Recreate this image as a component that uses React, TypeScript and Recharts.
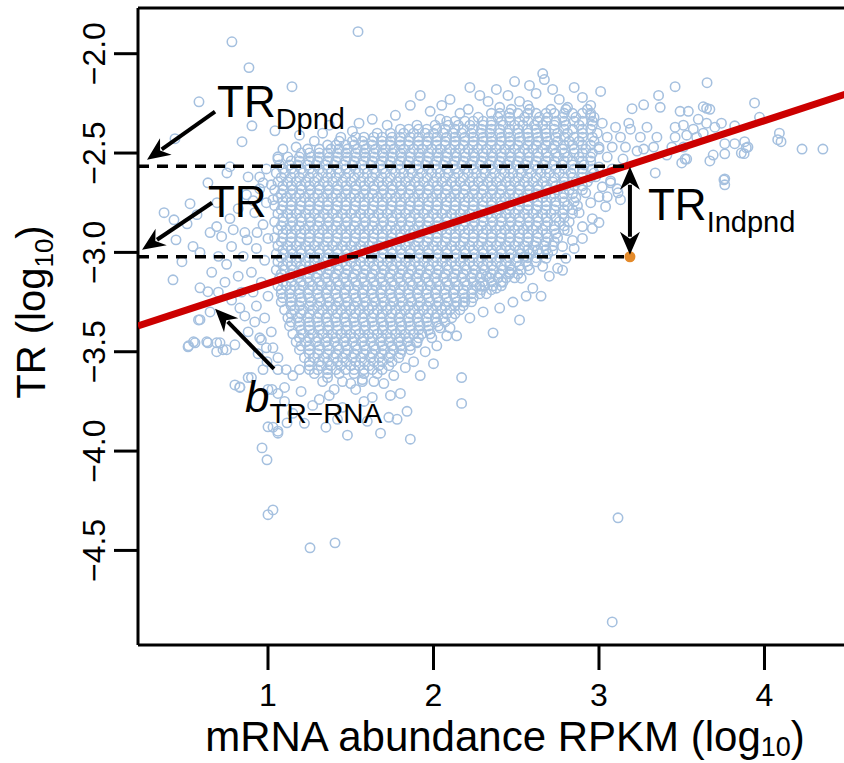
import { ReferenceDot, ReferenceLine, Scatter, ScatterChart, XAxis, YAxis } from 'recharts';

const FONT = "'Liberation Sans', Arial, Helvetica, sans-serif";
const POINT_COLOR = '#a5c0df';

// axis ranges (log10 units)
const xDomain: [number, number] = [0.2145, 4.553];
const yDomain: [number, number] = [-4.976, -1.77];
const xTicks = [1, 2, 3, 4];
const yTicks = [-4.5, -4, -3.5, -3, -2.5, -2];

// dense core of the cloud, read row by row: [TR, mRNA values...]
const coreRows: [number, number[]][] = [
  [-2.28, [2.47, 2.58, 2.71, 2.8, 2.93]],
  [-2.32, [2.27, 2.39, 2.46, 2.55, 2.64, 2.69, 2.78, 2.86, 2.97]],
  [-2.36, [1.9, 2.01, 2.09, 2.15, 2.22, 2.3, 2.35, 2.42, 2.49, 2.54, 2.61, 2.66, 2.73, 2.8, 2.88, 2.96]],
  [-2.4, [1.66, 1.74, 1.82, 1.88, 1.95, 2.0, 2.06, 2.12, 2.17, 2.23, 2.29, 2.34, 2.4, 2.45, 2.51, 2.57, 2.62, 2.68, 2.75, 2.81, 2.9, 2.99]],
  [-2.44, [1.43, 1.51, 1.57, 1.63, 1.69, 1.74, 1.8, 1.85, 1.91, 1.96, 2.02, 2.07, 2.13, 2.19, 2.24, 2.3, 2.35, 2.41, 2.46, 2.52, 2.58, 2.63, 2.69, 2.75, 2.82, 2.88, 2.97]],
  [-2.48, [1.24, 1.31, 1.38, 1.43, 1.48, 1.54, 1.59, 1.65, 1.71, 1.76, 1.82, 1.88, 1.93, 1.99, 2.04, 2.1, 2.16, 2.21, 2.27, 2.32, 2.38, 2.43, 2.49, 2.55, 2.6, 2.66, 2.72, 2.78, 2.85, 2.92, 3.0]],
  [-2.52, [1.12, 1.19, 1.26, 1.31, 1.37, 1.42, 1.48, 1.53, 1.59, 1.64, 1.7, 1.75, 1.81, 1.86, 1.92, 1.97, 2.03, 2.08, 2.14, 2.19, 2.25, 2.3, 2.36, 2.41, 2.47, 2.52, 2.58, 2.63, 2.69, 2.75, 2.81, 2.88, 2.95]],
  [-2.56, [1.07, 1.13, 1.18, 1.24, 1.29, 1.35, 1.4, 1.46, 1.51, 1.57, 1.62, 1.68, 1.73, 1.79, 1.84, 1.9, 1.95, 2.01, 2.06, 2.12, 2.17, 2.23, 2.28, 2.34, 2.39, 2.45, 2.5, 2.56, 2.61, 2.67, 2.72, 2.78, 2.84, 2.91]],
  [-2.6, [1.05, 1.1, 1.16, 1.21, 1.27, 1.33, 1.38, 1.43, 1.49, 1.55, 1.6, 1.65, 1.71, 1.77, 1.82, 1.87, 1.93, 1.99, 2.04, 2.09, 2.15, 2.21, 2.26, 2.31, 2.37, 2.43, 2.48, 2.53, 2.59, 2.65, 2.7, 2.76, 2.83, 2.9, 2.97]],
  [-2.645, [1.06, 1.12, 1.17, 1.23, 1.28, 1.34, 1.39, 1.45, 1.5, 1.56, 1.61, 1.67, 1.72, 1.78, 1.83, 1.89, 1.94, 2.0, 2.05, 2.11, 2.16, 2.22, 2.27, 2.33, 2.38, 2.44, 2.49, 2.55, 2.6, 2.66, 2.72, 2.79, 2.86, 2.93]],
  [-2.685, [1.04, 1.09, 1.15, 1.2, 1.26, 1.31, 1.37, 1.42, 1.48, 1.53, 1.59, 1.64, 1.7, 1.75, 1.81, 1.86, 1.92, 1.97, 2.03, 2.08, 2.14, 2.19, 2.25, 2.3, 2.36, 2.41, 2.47, 2.52, 2.58, 2.63, 2.69, 2.75, 2.82, 2.9]],
  [-2.725, [1.06, 1.11, 1.17, 1.22, 1.28, 1.33, 1.39, 1.44, 1.5, 1.55, 1.61, 1.66, 1.72, 1.77, 1.83, 1.88, 1.94, 1.99, 2.05, 2.1, 2.16, 2.21, 2.27, 2.32, 2.38, 2.43, 2.49, 2.54, 2.6, 2.66, 2.71, 2.78, 2.86]],
  [-2.765, [1.04, 1.09, 1.14, 1.2, 1.25, 1.31, 1.36, 1.42, 1.47, 1.53, 1.58, 1.64, 1.69, 1.75, 1.8, 1.86, 1.91, 1.97, 2.02, 2.08, 2.13, 2.19, 2.24, 2.3, 2.35, 2.41, 2.46, 2.52, 2.57, 2.63, 2.68, 2.74, 2.81, 2.87]],
  [-2.805, [1.06, 1.12, 1.17, 1.23, 1.28, 1.34, 1.39, 1.45, 1.5, 1.56, 1.61, 1.67, 1.72, 1.78, 1.83, 1.89, 1.94, 2.0, 2.05, 2.11, 2.16, 2.22, 2.27, 2.33, 2.38, 2.44, 2.49, 2.55, 2.6, 2.66, 2.71, 2.78, 2.84]],
  [-2.846, [1.04, 1.09, 1.15, 1.2, 1.26, 1.31, 1.37, 1.42, 1.48, 1.53, 1.59, 1.64, 1.7, 1.75, 1.81, 1.86, 1.92, 1.97, 2.03, 2.08, 2.14, 2.19, 2.25, 2.3, 2.36, 2.41, 2.47, 2.52, 2.58, 2.63, 2.69, 2.76, 2.82]],
  [-2.886, [1.06, 1.11, 1.17, 1.22, 1.28, 1.33, 1.39, 1.44, 1.5, 1.55, 1.61, 1.66, 1.72, 1.77, 1.83, 1.88, 1.94, 1.99, 2.05, 2.1, 2.16, 2.21, 2.27, 2.32, 2.38, 2.43, 2.49, 2.54, 2.6, 2.66, 2.73, 2.79]],
  [-2.926, [1.04, 1.09, 1.14, 1.2, 1.25, 1.31, 1.36, 1.42, 1.47, 1.53, 1.58, 1.64, 1.69, 1.75, 1.8, 1.86, 1.91, 1.97, 2.02, 2.08, 2.13, 2.19, 2.24, 2.3, 2.35, 2.41, 2.46, 2.52, 2.57, 2.63, 2.69, 2.75]],
  [-2.967, [1.06, 1.12, 1.17, 1.23, 1.28, 1.34, 1.39, 1.45, 1.5, 1.56, 1.61, 1.67, 1.72, 1.78, 1.83, 1.89, 1.94, 2.0, 2.05, 2.11, 2.16, 2.22, 2.27, 2.33, 2.38, 2.44, 2.49, 2.55, 2.61, 2.67, 2.72]],
  [-3.007, [1.05, 1.1, 1.15, 1.2, 1.26, 1.31, 1.37, 1.42, 1.48, 1.53, 1.59, 1.64, 1.7, 1.75, 1.81, 1.86, 1.92, 1.97, 2.03, 2.08, 2.14, 2.19, 2.25, 2.3, 2.36, 2.41, 2.47, 2.53, 2.58, 2.64, 2.69]],
  [-3.047, [1.06, 1.12, 1.17, 1.23, 1.28, 1.34, 1.39, 1.45, 1.5, 1.56, 1.61, 1.67, 1.72, 1.78, 1.83, 1.89, 1.94, 2.0, 2.05, 2.11, 2.16, 2.22, 2.27, 2.33, 2.38, 2.44, 2.5, 2.56, 2.62]],
  [-3.088, [1.05, 1.1, 1.15, 1.21, 1.26, 1.32, 1.37, 1.43, 1.48, 1.54, 1.59, 1.65, 1.7, 1.76, 1.81, 1.87, 1.92, 1.98, 2.03, 2.09, 2.14, 2.2, 2.25, 2.31, 2.36, 2.42, 2.47, 2.53, 2.58]],
  [-3.128, [1.07, 1.13, 1.18, 1.24, 1.29, 1.35, 1.4, 1.46, 1.51, 1.57, 1.62, 1.68, 1.73, 1.79, 1.84, 1.9, 1.95, 2.01, 2.06, 2.12, 2.17, 2.23, 2.28, 2.34, 2.39, 2.44, 2.49]],
  [-3.168, [1.06, 1.11, 1.16, 1.21, 1.27, 1.32, 1.38, 1.43, 1.49, 1.54, 1.6, 1.65, 1.71, 1.76, 1.82, 1.87, 1.93, 1.98, 2.04, 2.09, 2.15, 2.2, 2.26, 2.31, 2.36, 2.41]],
  [-3.208, [1.08, 1.13, 1.19, 1.24, 1.3, 1.35, 1.41, 1.46, 1.52, 1.57, 1.63, 1.68, 1.74, 1.79, 1.85, 1.9, 1.96, 2.01, 2.07, 2.12, 2.18, 2.23, 2.28, 2.32]],
  [-3.249, [1.08, 1.14, 1.2, 1.26, 1.32, 1.37, 1.43, 1.48, 1.54, 1.59, 1.65, 1.7, 1.76, 1.81, 1.87, 1.92, 1.98, 2.03, 2.09, 2.14, 2.19, 2.23]],
  [-3.289, [1.1, 1.16, 1.21, 1.27, 1.33, 1.39, 1.44, 1.5, 1.55, 1.61, 1.66, 1.72, 1.77, 1.83, 1.88, 1.94, 1.99, 2.05, 2.1, 2.16]],
  [-3.329, [1.12, 1.18, 1.24, 1.3, 1.35, 1.41, 1.46, 1.52, 1.57, 1.63, 1.68, 1.74, 1.79, 1.85, 1.9, 1.96, 2.01, 2.06, 2.11]],
  [-3.37, [1.13, 1.19, 1.25, 1.31, 1.37, 1.42, 1.48, 1.53, 1.59, 1.64, 1.7, 1.75, 1.81, 1.86, 1.92, 1.97, 2.03]],
  [-3.41, [1.15, 1.21, 1.27, 1.33, 1.39, 1.44, 1.5, 1.55, 1.61, 1.66, 1.72, 1.77, 1.83, 1.88, 1.93, 1.98]],
  [-3.45, [1.17, 1.23, 1.29, 1.35, 1.4, 1.46, 1.51, 1.57, 1.62, 1.68, 1.73, 1.79, 1.84, 1.9]],
  [-3.49, [1.19, 1.25, 1.31, 1.37, 1.43, 1.48, 1.54, 1.59, 1.65, 1.7, 1.76, 1.81, 1.86]],
  [-3.53, [1.22, 1.28, 1.34, 1.4, 1.45, 1.51, 1.56, 1.62, 1.67, 1.73, 1.79]],
  [-3.57, [1.25, 1.32, 1.38, 1.44, 1.5, 1.55, 1.61, 1.67, 1.73]],
  [-3.61, [1.28, 1.36, 1.43, 1.52, 1.58, 1.66]],
  [-3.65, [1.33, 1.45, 1.57, 1.64]],
  [-3.69, [1.4, 1.53]],
];

// in-between rows of the core sit on one of two column sets: [TR, from, to, set]
const midColsA = [1.09, 1.14, 1.2, 1.25, 1.31, 1.36, 1.42, 1.47, 1.53, 1.58, 1.64, 1.69, 1.75, 1.8, 1.86, 1.91, 1.97, 2.02, 2.08, 2.13, 2.19, 2.24, 2.3, 2.35, 2.41, 2.46, 2.52, 2.57, 2.63, 2.68, 2.74, 2.79, 2.85, 2.9, 2.96];
const midColsB = [1.08, 1.14, 1.19, 1.25, 1.3, 1.36, 1.41, 1.47, 1.52, 1.58, 1.63, 1.69, 1.74, 1.8, 1.85, 1.91, 1.96, 2.02, 2.07, 2.13, 2.18, 2.24, 2.29, 2.35, 2.4, 2.46, 2.51, 2.57, 2.62, 2.68, 2.73, 2.79, 2.84, 2.9, 2.95];
const midRows: [number, number, number, 'A' | 'B'][] = [
  [-2.3, 2.35, 2.95, 'B'],
  [-2.34, 2.08, 2.98, 'A'],
  [-2.38, 1.8, 3.0, 'B'],
  [-2.42, 1.53, 3.0, 'A'],
  [-2.46, 1.33, 3.0, 'B'],
  [-2.5, 1.16, 3.0, 'A'],
  [-2.54, 1.09, 2.97, 'B'],
  [-2.58, 1.06, 2.96, 'A'],
  [-2.623, 1.05, 2.95, 'B'],
  [-2.665, 1.05, 2.92, 'A'],
  [-2.705, 1.05, 2.88, 'B'],
  [-2.745, 1.05, 2.86, 'A'],
  [-2.785, 1.05, 2.85, 'B'],
  [-2.825, 1.05, 2.83, 'A'],
  [-2.866, 1.05, 2.8, 'B'],
  [-2.906, 1.05, 2.77, 'A'],
  [-2.946, 1.05, 2.74, 'B'],
  [-2.987, 1.05, 2.71, 'A'],
  [-3.027, 1.05, 2.66, 'B'],
  [-3.067, 1.06, 2.6, 'A'],
  [-3.108, 1.06, 2.53, 'B'],
  [-3.148, 1.07, 2.45, 'A'],
  [-3.188, 1.08, 2.36, 'B'],
  [-3.228, 1.09, 2.28, 'A'],
  [-3.269, 1.1, 2.2, 'B'],
  [-3.309, 1.12, 2.13, 'A'],
  [-3.35, 1.13, 2.08, 'B'],
  [-3.39, 1.15, 2.0, 'A'],
  [-3.43, 1.17, 1.95, 'B'],
  [-3.47, 1.19, 1.88, 'A'],
  [-3.51, 1.21, 1.82, 'B'],
  [-3.55, 1.24, 1.76, 'A'],
  [-3.59, 1.27, 1.7, 'B'],
];

// loose points around the core: [mRNA, TR]
const fringe: [number, number][] = [
  [1.19, -2.41], [1.37, -2.36], [1.51, -2.39], [1.63, -2.33], [1.77, -2.31], [1.86, -2.26], [1.98, -2.29],
  [2.1, -2.23], [2.21, -2.28], [2.33, -2.24], [2.45, -2.21], [2.57, -2.26], [2.67, -2.13], [2.76, -2.23],
  [2.85, -2.17], [2.95, -2.26], [2.49, -2.14], [2.22, -2.17], [1.92, -2.21], [2.66, -2.1], [3.01, -2.19],
  [1.09, -2.48], [1.17, -2.47], [1.06, -2.53], [1.28, -2.44], [1.33, -2.4], [1.55, -2.35], [1.72, -2.36],
  [2.04, -2.33], [2.16, -2.3], [2.4, -2.27], [2.62, -2.2], [2.72, -2.18], [2.9, -2.22], [2.81, -2.27],
  [2.52, -2.24], [2.28, -2.21], [1.44, -2.42], [2.05, -2.26], [2.38, -2.18], [2.58, -2.16], [2.95, -2.31],
  [0.88, -2.62], [0.95, -2.68], [0.99, -2.75], [0.92, -2.8], [0.97, -2.86], [1.0, -2.93], [0.93, -2.98],
  [0.98, -3.04], [0.9, -3.1], [0.96, -3.15], [1.0, -3.22], [0.93, -3.27], [0.98, -3.33], [1.02, -3.4],
  [0.95, -3.43], [1.03, -3.48], [1.06, -3.53], [0.99, -2.58], [0.86, -2.9], [0.84, -3.2], [0.78, -2.97],
  [0.75, -3.06], [0.82, -3.12], [0.83, -3.28], [0.86, -3.32], [0.92, -3.35], [0.88, -3.4], [0.96, -3.44],
  [0.94, -3.51], [0.99, -3.48], [0.69, -3.5], [0.63, -3.45], [0.69, -3.455], [0.75, -3.49], [0.58, -3.34],
  [0.65, -3.3], [0.52, -3.47], [0.55, -3.45], [0.87, -2.71], [0.82, -2.78], [0.91, -2.74], [0.77, -2.83],
  [0.72, -2.92], [0.85, -3.02], [0.7, -3.02], [0.66, -3.1], [0.74, -3.15], [0.91, -3.2], [0.78, -3.24],
  [0.7, -3.2], [0.95, -2.62], [1.02, -2.66],
  [1.36, -3.63], [1.37, -3.72], [1.63, -3.73], [1.74, -3.72], [1.8, -3.71], [1.73, -3.83], [1.78, -3.84],
  [1.84, -3.8], [1.57, -3.64], [1.5, -3.66], [1.25, -3.59], [1.19, -3.59], [1.11, -3.59], [1.06, -3.71],
  [1.0, -3.69], [1.03, -3.88], [1.06, -3.91], [1.27, -3.77], [1.15, -3.81], [0.83, -3.68], [0.88, -3.63],
  [1.15, -3.62], [1.2, -3.7], [1.31, -3.74], [1.45, -3.78], [1.58, -3.75], [1.7, -3.66], [1.76, -3.62],
  [1.83, -3.58], [1.88, -3.55], [1.95, -3.5], [2.02, -3.47], [2.08, -3.42], [1.6, -3.85], [1.42, -3.84],
  [1.35, -3.88], [1.68, -3.91], [1.92, -3.62], [2.0, -3.56], [1.22, -3.86], [1.48, -3.92], [1.1, -3.75],
  [3.05, -2.72], [2.96, -2.88], [2.9, -2.93], [2.85, -2.98], [2.8, -3.03], [2.75, -3.08], [2.7, -3.12],
  [2.6, -3.18], [2.65, -3.22], [2.72, -2.99], [2.68, -3.03], [2.56, -3.22], [2.48, -3.25], [2.4, -3.28],
  [2.3, -3.3], [2.22, -3.33], [2.55, -3.02], [2.95, -2.75], [2.92, -2.7], [3.08, -2.58], [2.98, -2.62],
];

// far outliers: [mRNA, TR]
const outliers: [number, number][] = [
  [0.782, -1.94], [1.544, -1.889], [0.885, -2.07], [1.145, -2.166], [0.583, -2.242], [0.903, -2.363],
  [1.042, -2.388], [0.843, -2.443], [0.438, -2.428], [1.06, -2.519], [0.77, -2.569], [0.752, -2.6],
  [0.637, -2.65], [0.529, -2.755], [0.372, -2.8], [0.432, -2.836], [0.511, -2.856], [0.571, -2.81],
  [0.692, -2.75], [0.97, -2.65], [1.03, -2.735], [0.444, -2.937], [0.547, -2.97], [0.65, -2.9],
  [0.69, -2.87], [0.79, -2.886], [0.873, -2.937], [0.934, -2.9], [0.589, -3.0],
  [0.426, -3.138], [0.589, -3.178], [0.48, -3.047], [0.637, -3.198], [0.589, -3.339], [0.517, -3.475],
  [0.559, -3.455], [0.637, -3.455], [0.71, -3.455], [0.8, -3.465], [0.728, -3.49], [0.8, -3.667],
  [0.83, -3.677], [0.9, -3.63], [0.97, -3.59], [0.994, -3.55], [1.06, -3.59], [1.024, -3.69], [1.1, -3.68],
  [1.0, -3.878], [1.06, -3.9], [1.115, -3.858], [0.964, -3.984], [0.994, -4.044], [1.0, -4.32],
  [1.03, -4.296], [1.254, -4.487], [1.405, -4.462], [3.115, -4.336], [3.08, -4.86],
  [2.66, -3.07], [2.52, -3.34], [2.36, -3.405], [2.38, -3.18], [2.53, -3.13], [2.46, -3.1], [2.42, -3.15],
  [2.32, -3.12], [2.28, -3.17], [2.18, -3.25], [2.1, -3.38], [2.14, -3.42], [2.04, -3.38], [1.99, -3.43],
  [1.9, -3.455], [2.6, -2.99], [2.17, -3.63], [2.17, -3.76], [1.86, -3.94],
  [3.653, -2.146], [3.46, -2.166], [3.36, -2.21], [3.37, -2.27], [3.2, -2.277], [3.27, -2.257],
  [3.94, -2.248], [3.97, -2.32], [4.09, -2.4], [4.1, -2.443], [4.08, -2.433], [4.227, -2.48], [4.353, -2.48],
  [3.82, -2.363], [3.76, -2.453], [3.76, -2.504], [3.88, -2.443], [3.89, -2.473], [3.877, -2.503],
  [3.82, -2.453], [3.76, -2.63], [3.76, -2.66], [3.69, -2.51], [3.67, -2.54], [3.5, -2.55], [3.53, -2.53],
  [3.34, -2.6], [3.49, -2.29], [3.54, -2.29], [3.63, -2.267], [3.65, -2.275], [3.67, -2.28], [3.6, -2.33],
  [3.65, -2.35], [3.7, -2.37], [3.74, -2.35], [3.46, -2.37], [3.51, -2.36], [3.57, -2.38], [3.46, -2.42],
  [3.53, -2.41], [3.59, -2.42], [3.63, -2.4], [3.44, -2.47], [3.51, -2.47], [3.41, -2.51], [3.33, -2.47],
  [3.27, -2.48], [3.35, -2.42], [3.29, -2.37], [3.25, -2.42], [3.18, -2.35], [3.1, -2.37], [3.13, -2.42],
  [3.19, -2.38], [3.02, -2.35], [3.05, -2.42], [3.08, -2.47], [3.16, -2.47], [3.23, -2.49], [3.0, -2.47],
  [3.05, -2.52], [3.145, -2.53], [3.0, -2.57], [3.07, -2.64], [3.11, -2.68], [3.02, -2.67], [3.52, -2.53],
  [3.86, -2.5], [3.9, -2.47], [3.755, -2.635],
  [3.0, -2.72], [3.04, -2.77], [2.88, -2.8], [2.96, -2.83], [3.0, -2.85], [2.9, -2.87], [2.81, -2.89],
  [2.84, -2.94], [2.78, -2.97], [2.78, -3.09], [3.13, -2.735], [3.115, -2.7], [3.07, -2.65],
];

// regression of TR on mRNA abundance (end points at the plot edges)
const fitLine = [
  { x: 0.2145, y: -3.37 },
  { x: 4.553, y: -2.186 },
];

// the highlighted gene and the two TR levels
const gene = { x: 3.187, y: -3.022 };
const trDpnd = -2.567;

const points = [
  ...coreRows.flatMap(([y, xs]) => xs.map((x) => ({ x, y }))),
  ...midRows.flatMap(([y, from, to, set]) =>
    (set === 'A' ? midColsA : midColsB).filter((x) => x >= from && x <= to).map((x) => ({ x, y })),
  ),
  ...fringe.map(([x, y]) => ({ x, y })),
  ...outliers.map(([x, y]) => ({ x, y })),
];

const fmtY = (v: number) => v.toFixed(1).replace('-', '\u2212');

function Ring(props: any) {
  const { cx, cy } = props;
  if (cx == null || cy == null) return null;
  return <circle cx={cx} cy={cy} r={4.7} fill="none" stroke={POINT_COLOR} strokeWidth={1.55} />;
}

function Dot(props: any) {
  const { cx, cy } = props;
  if (cx == null || cy == null) return null;
  return <circle cx={cx} cy={cy} r={5.5} fill="#e48a2a" />;
}

function YTick(props: any) {
  const { y, payload } = props;
  return (
    <text
      x={105}
      y={y}
      transform={`rotate(-90 105 ${y})`}
      textAnchor="middle"
      fontFamily={FONT}
      fontSize={32}
      fill="#000"
    >
      {fmtY(payload.value)}
    </text>
  );
}

function XTick(props: any) {
  const { x, payload } = props;
  return (
    <text x={x} y={706} textAnchor="middle" fontFamily={FONT} fontSize={32} fill="#000">
      {payload.value}
    </text>
  );
}

function head(tx: number, ty: number, ux: number, uy: number) {
  const L = 23;
  const W = 10;
  const N = 7;
  const nx = -uy;
  const ny = ux;
  const bx = tx - ux * L;
  const by = ty - uy * L;
  return `${tx},${ty} ${bx + nx * W},${by + ny * W} ${tx - ux * (L - N)},${ty - uy * (L - N)} ${bx - nx * W},${by - ny * W}`;
}

function ArrowShape(props: any) {
  const { x1, y1, x2, y2, both } = props;
  const len = Math.hypot(x2 - x1, y2 - y1) || 1;
  const ux = (x2 - x1) / len;
  const uy = (y2 - y1) / len;
  const back = 18;
  const sx = both ? x1 + ux * back : x1;
  const sy = both ? y1 + uy * back : y1;
  return (
    <g>
      <line x1={sx} y1={sy} x2={x2 - ux * back} y2={y2 - uy * back} stroke="#000" strokeWidth={4} />
      <polygon points={head(x2, y2, ux, uy)} fill="#000" />
      {both && <polygon points={head(x1, y1, -ux, -uy)} fill="#000" />}
    </g>
  );
}

function labelShape(main: string, sub: string, italic = false, dy = 12, subSize = 29) {
  return (p: any) => (
    <text x={p.cx} y={p.cy} fontFamily={FONT} fontSize={44} fill="#000">
      <tspan fontStyle={italic ? 'italic' : 'normal'}>{main}</tspan>
      {sub && (
        <tspan fontSize={subSize} dy={dy}>
          {sub}
        </tspan>
      )}
    </text>
  );
}

export default function App() {
  return (
    <div style={{ position: 'absolute', left: 0, top: 0, width: 844, height: 763, overflow: 'hidden', background: '#fff' }}>
      <ScatterChart width={856} height={763} margin={{ top: 8, right: 0, bottom: 0, left: 0 }}>
        <XAxis
          type="number"
          dataKey="x"
          domain={xDomain}
          ticks={xTicks}
          allowDataOverflow
          height={118}
          tickSize={25}
          axisLine={{ stroke: '#000', strokeWidth: 3 }}
          tickLine={{ stroke: '#000', strokeWidth: 3 }}
          tick={<XTick />}
        />
        <YAxis
          type="number"
          dataKey="y"
          domain={yDomain}
          ticks={yTicks}
          allowDataOverflow
          width={138}
          tickSize={24}
          axisLine={{ stroke: '#000', strokeWidth: 3 }}
          tickLine={{ stroke: '#000', strokeWidth: 3 }}
          tick={<YTick />}
        />
        <Scatter data={points} shape={<Ring />} isAnimationActive={false} />
        <ReferenceLine y={yDomain[1]} stroke="#000" strokeWidth={3} ifOverflow="visible" />
        <ReferenceLine
          segment={[{ x: xDomain[0], y: trDpnd }, { x: gene.x, y: trDpnd }]}
          stroke="#000"
          strokeWidth={3.5}
          strokeDasharray="11 8"
          ifOverflow="visible"
          zIndex={900}
        />
        <ReferenceLine
          segment={[{ x: xDomain[0], y: gene.y }, { x: gene.x, y: gene.y }]}
          stroke="#000"
          strokeWidth={3.5}
          strokeDasharray="11 8"
          ifOverflow="visible"
          zIndex={900}
        />
        <Scatter
          data={fitLine}
          line={{ stroke: '#cc0000', strokeWidth: 7 }}
          shape={() => <g />}
          isAnimationActive={false}
        />
        <Scatter data={[gene]} shape={<Dot />} isAnimationActive={false} />
        <ReferenceLine
          segment={[{ x: 0.68, y: -2.292 }, { x: 0.269, y: -2.534 }]}
          shape={(p: any) => <ArrowShape {...p} />}
          ifOverflow="visible"
          zIndex={950}
        />
        <ReferenceLine
          segment={[{ x: 0.662, y: -2.75 }, { x: 0.239, y: -2.987 }]}
          shape={(p: any) => <ArrowShape {...p} />}
          ifOverflow="visible"
          zIndex={950}
        />
        <ReferenceLine
          segment={[{ x: 1.036, y: -3.586 }, { x: 0.68, y: -3.284 }]}
          shape={(p: any) => <ArrowShape {...p} />}
          ifOverflow="visible"
          zIndex={950}
        />
        <ReferenceLine
          segment={[{ x: gene.x, y: -2.569 }, { x: gene.x, y: -3.012 }]}
          shape={(p: any) => <ArrowShape {...p} both />}
          ifOverflow="visible"
          zIndex={950}
        />
        <ReferenceDot x={0.692} y={-2.317} r={0} ifOverflow="visible" shape={labelShape('TR', 'Dpnd')} zIndex={1000} />
        <ReferenceDot x={0.637} y={-2.821} r={0} ifOverflow="visible" shape={labelShape('TR', '')} zIndex={1000} />
        <ReferenceDot x={3.296} y={-2.836} r={0} ifOverflow="visible" shape={labelShape('TR', 'Indpnd')} zIndex={1000} />
        <ReferenceDot x={0.861} y={-3.803} r={0} ifOverflow="visible" shape={labelShape('b', 'TR\u2212RNA', true, 11, 28)} zIndex={1000} />
      </ScatterChart>
      <svg width={844} height={763} style={{ position: 'absolute', left: 0, top: 0, pointerEvents: 'none' }}>
        <text x={505} y={751} textAnchor="middle" fontFamily={FONT} fontSize={42} fill="#000">
          mRNA abundance RPKM (log<tspan fontSize={27} dy={5}>10</tspan>
          <tspan dy={-5}>)</tspan>
        </text>
        <text
          x={45}
          y={312}
          transform="rotate(-90 45 312)"
          textAnchor="middle"
          fontFamily={FONT}
          fontSize={40}
          fill="#000"
        >
          TR (log<tspan fontSize={26} dy={8}>10</tspan>
          <tspan dy={-8}>)</tspan>
        </text>
      </svg>
    </div>
  );
}
